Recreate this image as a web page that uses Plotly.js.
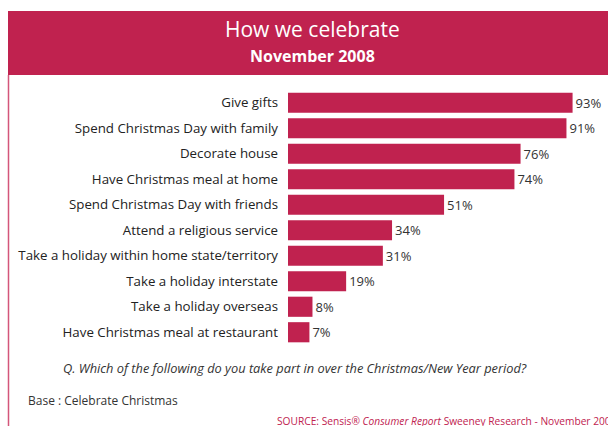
<!DOCTYPE html>
<html><head><meta charset="utf-8">
<script src="https://cdn.plot.ly/plotly-3.0.1.min.js"></script>
<style>html,body{margin:0;padding:0;background:#fff;}#chart{width:608px;height:426px;}</style>
</head><body><div id="chart"></div>
<script>
var categories = ["Give gifts","Spend Christmas Day with family","Decorate house","Have Christmas meal at home","Spend Christmas Day with friends","Attend a religious service","Take a holiday within home state/territory","Take a holiday interstate","Take a holiday overseas","Have Christmas meal at restaurant"];
var values = [93,91,76,74,51,34,31,19,8,7];
var valueLabels = values.map(function(v){return v+"%";});

var W=608,H=426, L=288, R=14, T=90, B=81;
var pw=W-L-R, ph=H-T-B;
function px(x){return (x-L)/pw;}
function py(y){return (H-B-y)/ph;}
var pink="#C0224F", font="Open Sans, sans-serif";

var trace={type:"bar",orientation:"h",y:categories,x:values,text:valueLabels,textposition:"outside",
  cliponaxis:false,marker:{color:pink},textfont:{family:font,size:13,color:"#333"},hoverinfo:"none"};

var layout={width:W,height:H,margin:{l:L,r:R,t:T,b:B},paper_bgcolor:"#fff",plot_bgcolor:"#fff",
  showlegend:false,bargap:0.21,font:{family:font,color:"#333"},
  xaxis:{range:[0,100],visible:false,fixedrange:true},
  yaxis:{autorange:"reversed",showgrid:false,zeroline:false,showline:false,ticks:"",ticklabelstandoff:9,
    tickfont:{family:font,size:13.3,color:"#222"},fixedrange:true},
  shapes:[
    {type:"rect",xref:"paper",yref:"paper",x0:px(8),x1:px(620),y0:py(75),y1:py(11),fillcolor:pink,line:{width:0},layer:"below"},
    {type:"line",xref:"paper",yref:"paper",x0:px(8.5),x1:px(8.5),y0:py(75),y1:py(430),line:{color:"#D4567A",width:1.5}}
  ],
  annotations:[
    {xref:"paper",yref:"paper",x:px(312),y:py(29),text:"How we celebrate",showarrow:false,font:{family:font,size:21,color:"#fff"},xanchor:"center",yanchor:"middle"},
    {xref:"paper",yref:"paper",x:px(312),y:py(56),text:"<b>November 2008</b>",showarrow:false,font:{family:font,size:16,color:"#fff"},xanchor:"center",yanchor:"middle"},
    {xref:"paper",yref:"paper",x:px(295),y:py(368),text:"<i>Q. Which of the following do you take part in over the Christmas/New Year period?</i>",showarrow:false,font:{family:font,size:12.8,color:"#333"},xanchor:"center",yanchor:"middle"},
    {xref:"paper",yref:"paper",x:px(26),y:py(400),text:"Base : Celebrate Christmas",showarrow:false,font:{family:font,size:12,color:"#333"},xanchor:"left",yanchor:"middle"},
    {xref:"paper",yref:"paper",x:px(275),y:py(421),text:"SOURCE: Sensis\u00AE <i>Consumer Report</i> Sweeney Research - November 2008",showarrow:false,font:{family:font,size:10.2,color:pink},xanchor:"left",yanchor:"middle"}
  ]};
Plotly.newPlot("chart",[trace],layout,{staticPlot:true,displayModeBar:false});
</script></body></html>
